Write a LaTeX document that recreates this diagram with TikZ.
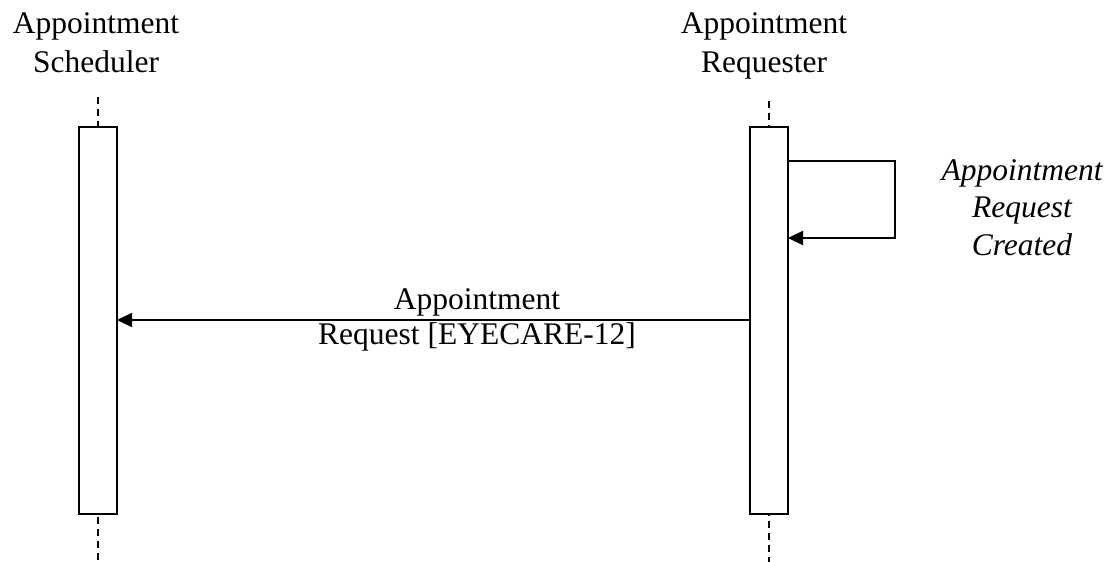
\documentclass[tikz,border=0pt]{standalone}
\usepackage{fontspec}
\setmainfont{Liberation Serif}
\usetikzlibrary{arrows.meta}
\begin{document}
\begin{tikzpicture}[x=1pt,y=-1pt,
  lbl/.style={align=center, inner sep=0pt, anchor=base},
  act/.style={draw, line width=2.2pt, fill=white},
  life/.style={line width=1.5pt, dash pattern=on 7pt off 5pt},
  msg/.style={line width=2.2pt, -{Triangle[length=15pt,width=14pt]}}]
\useasboundingbox (0,0) rectangle (1117,562);
% headers (anchor base = baseline of last line)
\node[lbl, font=\fontsize{31.5}{39}\selectfont] (hs) at (96,72) {Appointment\\Scheduler};
\node[lbl, font=\fontsize{31.5}{39}\selectfont] (hr) at (764,72) {Appointment\\Requester};
% lifelines
\coordinate (lt) at (98,97);
\coordinate (lb) at (98,562);
\coordinate (rt) at (769,101);
\coordinate (rb) at (769,562);
\draw[life] (lt) -- (lb);
\draw[life] (rt) -- (rb);
% activation boxes
\draw[act] (79,127) rectangle (117,514);
\draw[act] (750,127) rectangle (788,514);
\coordinate (s1) at (788,161);
\coordinate (c1) at (895,161);
\coordinate (c2) at (895,238);
\coordinate (s2) at (788,238);
\draw[msg] (s1) -- (c1) -- (c2) -- (s2);
\node[lbl, font=\fontsize{31.5}{37.5}\itshape\selectfont] (self) at (1022,255) {Appointment\\Request\\Created};
% message
\coordinate (m1) at (750,320);
\coordinate (m2) at (117,320);
\draw[msg] (m1) -- (m2);
\node[lbl, font=\fontsize{31.5}{35}\selectfont] (ml) at (477,344) {Appointment\\Request [EYECARE-12]};
\end{tikzpicture}
\end{document}
